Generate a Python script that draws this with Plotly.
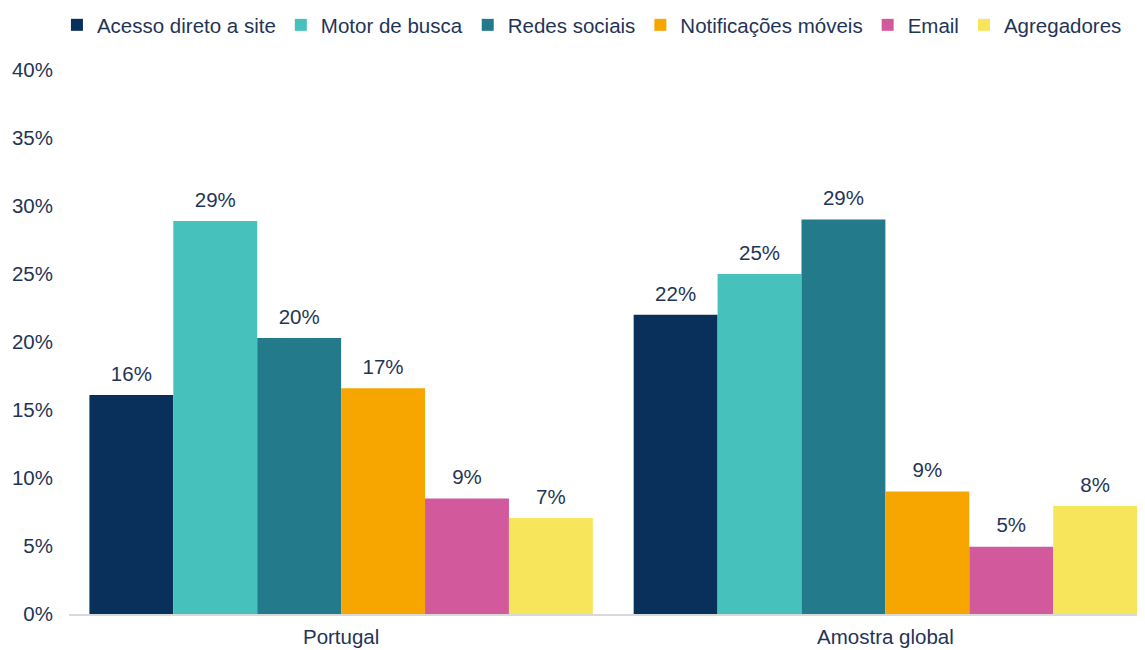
import plotly.graph_objects as go

categories = ["Portugal", "Amostra global"]
series_names = ["Acesso direto a site", "Motor de busca", "Redes sociais",
                "Notificações móveis", "Email", "Agregadores"]
acesso = [16.1, 22.0]
motor = [28.9, 25.0]
redes = [20.3, 29.0]
notificacoes = [16.6, 9.0]
email = [8.5, 4.95]
agregadores = [7.05, 7.95]
labels = {
    "Acesso direto a site": ["16%", "22%"],
    "Motor de busca": ["29%", "25%"],
    "Redes sociais": ["20%", "29%"],
    "Notificações móveis": ["17%", "9%"],
    "Email": ["9%", "5%"],
    "Agregadores": ["7%", "8%"],
}
y_tickvals = [0, 5, 10, 15, 20, 25, 30, 35, 40]
y_ticktext = ["0%", "5%", "10%", "15%", "20%", "25%", "30%", "35%", "40%"]

colors = ["#08305b", "#47c1bc", "#237a8a", "#f7a600", "#d2599c", "#f7e55b"]
values = [acesso, motor, redes, notificacoes, email, agregadores]

FONT = "Liberation Sans, Arial, sans-serif"
TXT = "#1f3557"
FS = 20.5

fig = go.Figure()
for i, (name, vals, col) in enumerate(zip(series_names, values, colors)):
    fig.add_trace(go.Bar(
        name=name, x=categories, y=vals, marker_color=col,
        marker_line_width=0, offsetgroup=str(i),
    ))
for i, (name, vals) in enumerate(zip(series_names, values)):
    fig.add_trace(go.Scatter(
        x=categories, y=vals, mode="markers+text", offsetgroup=str(i),
        marker=dict(size=13, opacity=0), text=labels[name],
        textposition="top center", showlegend=False, cliponaxis=False,
        textfont=dict(size=FS, color=TXT, family=FONT), hoverinfo="skip",
    ))

# page body has an 8px margin: figure sized to fill the rest of the window
fig.update_layout(
    width=1137, height=642,
    margin=dict(l=61, r=0, t=62, b=36),
    paper_bgcolor="white", plot_bgcolor="white",
    barmode="group", bargap=0.075, bargroupgap=0,
    scattermode="group", scattergap=0.075,
    font=dict(family=FONT, size=FS, color=TXT),
    showlegend=True,
    legend=dict(orientation="h", x=0.486, xanchor="center",
                yref="container", y=0.9735, yanchor="middle",
                font=dict(size=FS, color=TXT, family=FONT), itemwidth=30,
                traceorder="normal"),
)
fig.update_xaxes(range=[-0.5, 1.477], showline=True, linecolor="#d9d9d9", linewidth=2,
                 showgrid=False, ticks="", automargin=False, ticklabelstandoff=3,
                 tickfont=dict(size=FS, color=TXT))
fig.update_yaxes(range=[0, 40], tickvals=y_tickvals, ticktext=y_ticktext,
                 showgrid=False, zeroline=False, showline=False, ticks="",
                 ticklabelstandoff=15, automargin=False,
                 tickfont=dict(size=FS, color=TXT))

fig.write_html("out.html")
